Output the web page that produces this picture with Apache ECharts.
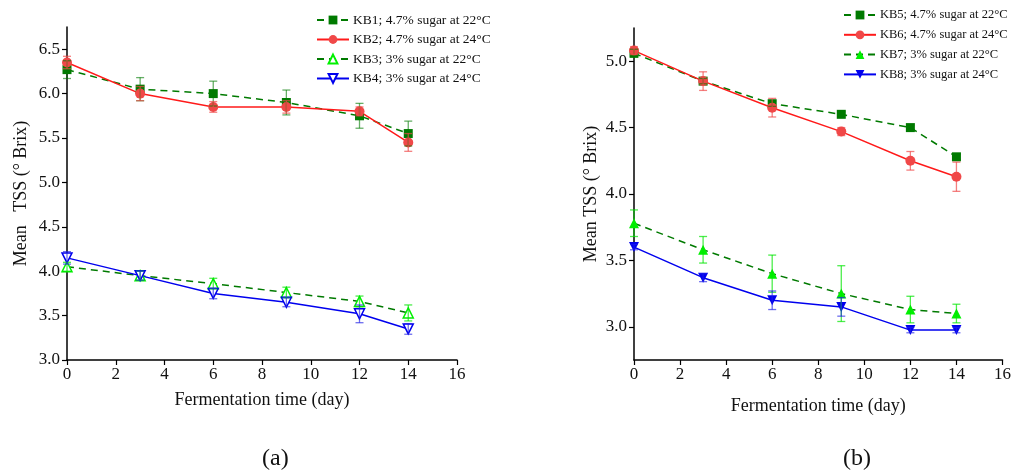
<!DOCTYPE html>
<html>
<head>
<meta charset="utf-8">
<script src="https://cdn.jsdelivr.net/npm/echarts@6/dist/echarts.min.js"></script>
<style>
html,body{margin:0;padding:0;background:#fff;}
#c{width:1014px;height:475px;}
</style>
</head>
<body>
<div id="c"></div>
<script>
// ---------- data ----------
const days = [0, 3, 6, 9, 12, 14];
const xTicks = [0, 2, 4, 6, 8, 10, 12, 14, 16];
const yTicksA = [3.0, 3.5, 4.0, 4.5, 5.0, 5.5, 6.0, 6.5];
const yTicksB = [3.0, 3.5, 4.0, 4.5, 5.0];

const namesA = ['KB1; 4.7% sugar at 22°C', 'KB2; 4.7% sugar at 24°C', 'KB3; 3% sugar at 22°C', 'KB4; 3% sugar at 24°C'];
const namesB = ['KB5; 4.7% sugar at 22°C', 'KB6; 4.7% sugar at 24°C', 'KB7; 3% sugar at 22°C', 'KB8; 3% sugar at 24°C'];

const kb1 = [6.27, 6.05, 6.00, 5.90, 5.75, 5.55];
const kb1Err = [0.10, 0.13, 0.14, 0.14, 0.14, 0.14];
const kb2 = [6.35, 6.00, 5.85, 5.85, 5.80, 5.45];
const kb2Err = [0.07, 0.08, 0.06, 0.07, 0.05, 0.10];
const kb3 = [4.05, 3.95, 3.86, 3.76, 3.66, 3.53];
const kb3Err = [0.05, 0.05, 0.06, 0.06, 0.06, 0.09];
const kb4 = [4.15, 3.95, 3.75, 3.65, 3.52, 3.35];
const kb4Err = [0.07, 0.05, 0.06, 0.05, 0.10, 0.06];

const kb5 = [5.06, 4.85, 4.68, 4.60, 4.50, 4.28];
const kb5Err = [0.03, 0.02, 0.02, 0.02, 0.02, 0.02];
const kb6 = [5.08, 4.85, 4.65, 4.47, 4.25, 4.13];
const kb6Err = [0.03, 0.07, 0.07, 0.03, 0.07, 0.11];
const kb7 = [3.78, 3.58, 3.40, 3.25, 3.13, 3.10];
const kb7Err = [0.10, 0.10, 0.14, 0.21, 0.10, 0.07];
const kb8 = [3.60, 3.37, 3.20, 3.15, 2.975, 2.975];
const kb8Err = [0.02, 0.03, 0.07, 0.07, 0.02, 0.02];

// ---------- helpers ----------
const FONT = '"Liberation Serif", "Times New Roman", serif';
const pts = (ys) => days.map((d, i) => [d, ys[i]]);
const errs = (ys, es) => days.map((d, i) => [d, ys[i] - es[i], ys[i] + es[i]]);

function lineSeries(name, idx, ys, o) {
  return {
    type: 'line', name: name, xAxisIndex: idx, yAxisIndex: idx,
    data: pts(ys), symbol: o.symbol, symbolSize: o.size, symbolRotate: o.rotate || 0,
    lineStyle: { color: o.line, width: 1.5, type: o.dash ? [7, 5] : 'solid' },
    itemStyle: { color: o.fill, borderColor: o.border || o.fill, borderWidth: o.bw || 0 },
    z: 3, animation: false
  };
}
function errSeries(idx, ys, es, color) {
  return {
    type: 'custom', xAxisIndex: idx, yAxisIndex: idx, z: 4, animation: false,
    data: errs(ys, es), encode: { x: 0, y: [1, 2] }, silent: true,
    renderItem: function (params, api) {
      const x = api.value(0), lo = api.value(1), hi = api.value(2);
      const p1 = api.coord([x, hi]), p2 = api.coord([x, lo]);
      const w = 4;
      const st = { stroke: color, lineWidth: 1.3 };
      return {
        type: 'group', children: [
          { type: 'line', shape: { x1: p1[0], y1: p1[1], x2: p2[0], y2: p2[1] }, style: st },
          { type: 'line', shape: { x1: p1[0] - w, y1: p1[1], x2: p1[0] + w, y2: p1[1] }, style: st },
          { type: 'line', shape: { x1: p2[0] - w, y1: p2[1], x2: p2[0] + w, y2: p2[1] }, style: st }
        ]
      };
    }
  };
}

const axisLineStyle = { show: true, lineStyle: { color: '#000', width: 1.5 } };
function xAxis(idx, gap) {
  return {
    type: 'value', gridIndex: idx, min: 0, max: 16, interval: 2,
    name: 'Fermentation time (day)', nameLocation: 'middle', nameGap: gap,
    nameTextStyle: { fontFamily: FONT, fontSize: 18, color: '#111' },
    axisLine: axisLineStyle, axisTick: { show: true, length: 5, lineStyle: { color: '#000', width: 1.2 } },
    axisLabel: { fontFamily: FONT, fontSize: 17, color: '#111', margin: 6 },
    splitLine: { show: false }
  };
}
function yAxis(idx, min, max, ticks, name, gap) {
  return {
    type: 'value', gridIndex: idx, min: min, max: max,
    name: name, nameLocation: 'middle', nameGap: gap,
    nameTextStyle: { fontFamily: FONT, fontSize: 18, color: '#111' },
    axisLine: axisLineStyle,
    axisTick: { show: true, length: 5, customValues: ticks, lineStyle: { color: '#000', width: 1.2 } },
    axisLabel: { fontFamily: FONT, fontSize: 17, color: '#111', margin: 7, customValues: ticks,
      formatter: (v) => v.toFixed(1) },
    splitLine: { show: false }
  };
}

const GREEN = '#007a00', RED = '#ff1a1a', REDM = '#f04848', LIME = '#00f000', BLUE = '#0000ee';

const option = {
  backgroundColor: '#fff',
  animation: false,
  grid: [
    { left: 67, top: 27, right: 557, bottom: 115 },
    { left: 634, top: 28, right: 11, bottom: 115 }
  ],
  xAxis: [xAxis(0, 31), xAxis(1, 37)],
  yAxis: [
    yAxis(0, 3.0, 6.75, yTicksA, 'Mean   TSS (° Brix)', 37),
    yAxis(1, 2.75, 5.25, yTicksB, 'Mean TSS (° Brix)', 34)
  ],
  legend: [
    { data: namesA, orient: 'vertical', left: 316, top: 13, padding: 0, itemWidth: 32, itemHeight: 11, itemGap: 5.5,
      textStyle: { fontFamily: FONT, fontSize: 13.5, lineHeight: 14, color: '#111', padding: [0, 0, 0, -1] } },
    { data: namesB, orient: 'vertical', left: 843, top: 8, padding: 0, itemWidth: 32, itemHeight: 11, itemGap: 5.8,
      textStyle: { fontFamily: FONT, fontSize: 12.5, lineHeight: 14, color: '#111', padding: [0, 0, 0, -1] } }
  ],
  graphic: [
    { type: 'text', left: 262, top: 447, style: { text: '(a)', font: '24px ' + FONT, fill: '#111' } },
    { type: 'text', left: 843, top: 447, style: { text: '(b)', font: '24px ' + FONT, fill: '#111' } }
  ],
  series: [
    lineSeries(namesA[0], 0, kb1, { symbol: 'rect', size: 9, line: GREEN, fill: GREEN, dash: true }),
    lineSeries(namesA[1], 0, kb2, { symbol: 'circle', size: 10, line: RED, fill: REDM }),
    lineSeries(namesA[2], 0, kb3, { symbol: 'triangle', size: 10, line: GREEN, fill: '#fff', border: LIME, bw: 1.5, dash: true }),
    lineSeries(namesA[3], 0, kb4, { symbol: 'triangle', size: 10, rotate: 180, line: BLUE, fill: '#fff', border: BLUE, bw: 1.5 }),
    errSeries(0, kb1, kb1Err, 'rgba(0,122,0,0.6)'),
    errSeries(0, kb2, kb2Err, 'rgba(240,72,72,0.7)'),
    errSeries(0, kb3, kb3Err, 'rgba(0,230,0,0.7)'),
    errSeries(0, kb4, kb4Err, 'rgba(30,30,230,0.65)'),

    lineSeries(namesB[0], 1, kb5, { symbol: 'rect', size: 9, line: GREEN, fill: GREEN, dash: true }),
    lineSeries(namesB[1], 1, kb6, { symbol: 'circle', size: 10, line: RED, fill: REDM }),
    lineSeries(namesB[2], 1, kb7, { symbol: 'triangle', size: 10, line: GREEN, fill: LIME, dash: true }),
    lineSeries(namesB[3], 1, kb8, { symbol: 'triangle', size: 10, rotate: 180, line: BLUE, fill: BLUE }),
    errSeries(1, kb5, kb5Err, 'rgba(0,122,0,0.6)'),
    errSeries(1, kb6, kb6Err, 'rgba(240,72,72,0.7)'),
    errSeries(1, kb7, kb7Err, 'rgba(0,230,0,0.7)'),
    errSeries(1, kb8, kb8Err, 'rgba(30,30,230,0.65)')
  ]
};

const chart = echarts.init(document.getElementById('c'), null, { renderer: 'canvas' });
chart.setOption(option);
</script>
</body>
</html>
